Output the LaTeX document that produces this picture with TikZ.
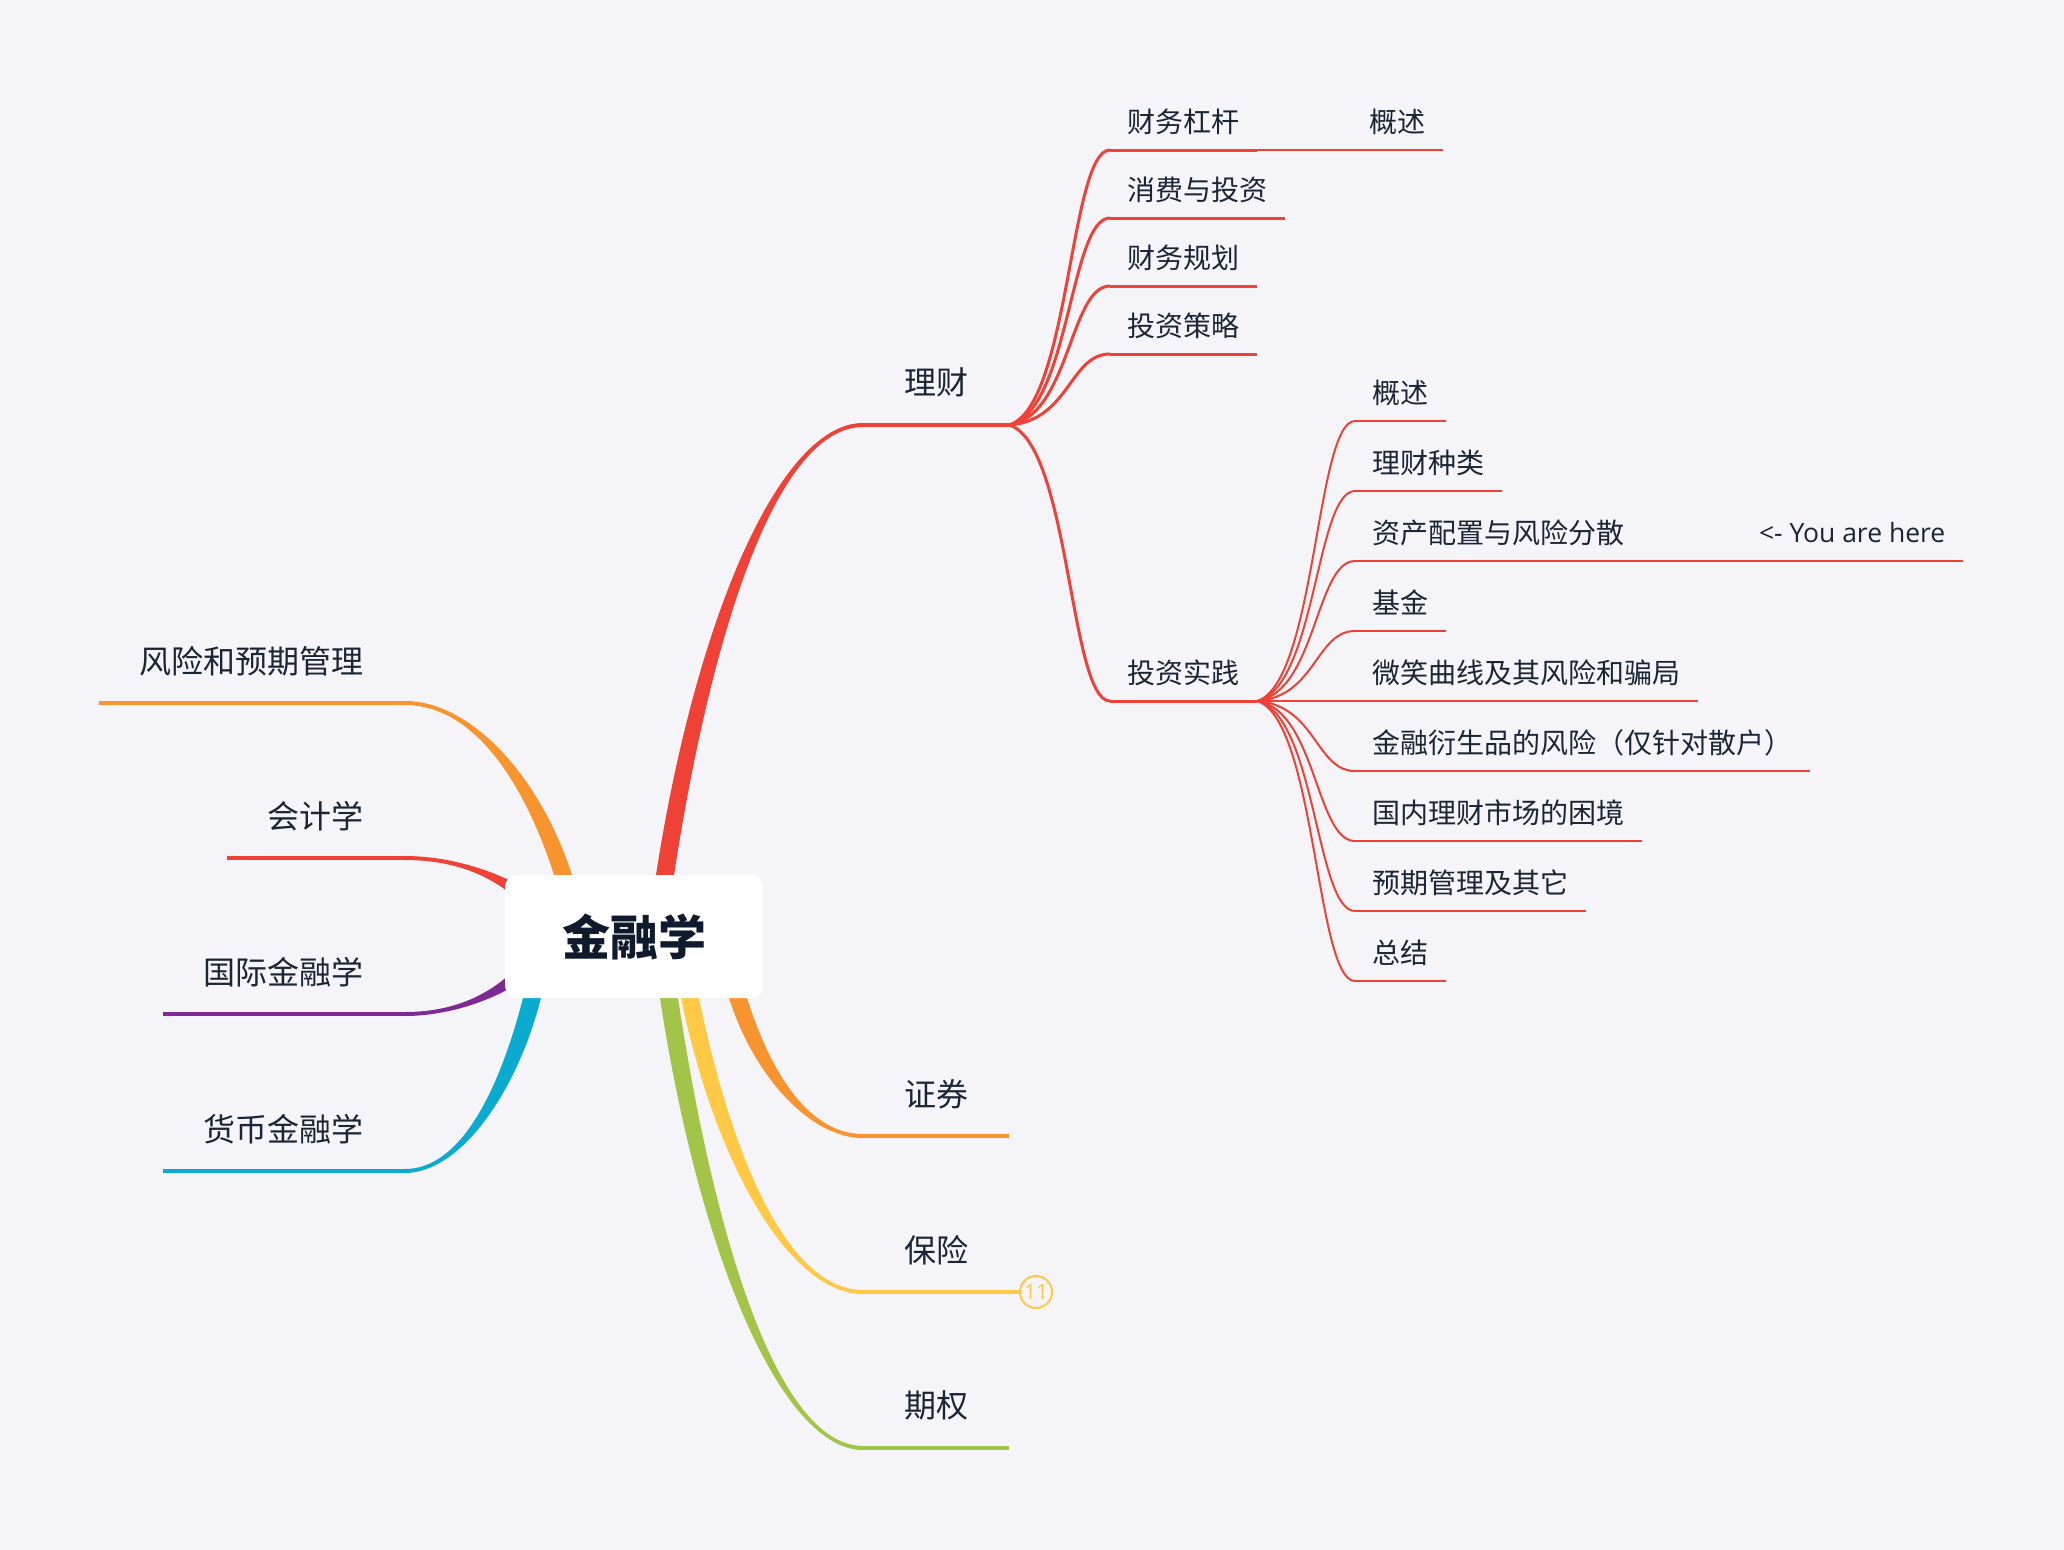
\documentclass[tikz,border=0pt]{standalone}
\usepackage{fontspec}
\setmainfont{Noto Sans CJK SC}
\newfontfamily\latinf{Open Sans}
\usetikzlibrary{calc}
\definecolor{bg}{HTML}{F5F5F9}
\definecolor{txt}{HTML}{1A2535}
\definecolor{rootc}{HTML}{0F1B2D}
\definecolor{cred}{HTML}{EF4136}
\definecolor{corange}{HTML}{F7942F}
\definecolor{cyellow}{HTML}{FFC845}
\definecolor{cgreen}{HTML}{A2C448}
\definecolor{cblue}{HTML}{0BABD0}
\definecolor{cpurple}{HTML}{7E2A92}
\tikzset{
  rootbox/.style={fill=white, rounded corners=12pt, minimum width=258pt, minimum height=123pt, inner sep=0pt,
    font=\fontsize{48}{52}\selectfont\bfseries, text=rootc},
  lone/.style={inner xsep=41pt, inner ysep=0pt, minimum height=84pt, font=\fontsize{32}{36}\selectfont, text=txt},
  ltwo/.style={inner xsep=17.5pt, inner ysep=0pt, minimum height=56pt, font=\fontsize{28}{32}\selectfont, text=txt},
  herestyle/.style={inner xsep=17.5pt, inner ysep=0pt, minimum height=56pt, font=\latinf\fontsize{26.5}{30}\selectfont, text=txt},
  ulone/.style={line width=4pt},
  ultwo/.style={line width=3pt, cred},
  ulthree/.style={line width=2pt, cred},
}
% tapered main branch: #1 base, #2 end, #3 colour, #4 sign, #5 half base width
\newcommand\trunk[5]{%
  \fill[#3] let \p1=(#1), \p2=(#2) in
    ({\x1-#5pt},\y1) .. controls ({\x1+0.2*(\x2-\x1)-#5pt},{\y1+0.57*(\y2-\y1)}) and ({\x2-0.42*(\x2-\x1)},{\y2+(#4)*2pt}) .. ({\x2},{\y2+(#4)*2pt})
    -- ({\x2},{\y2-(#4)*2pt}) .. controls ({\x2-0.42*(\x2-\x1)},{\y2-(#4)*2pt}) and ({\x1+0.2*(\x2-\x1)+#5pt},{\y1+0.57*(\y2-\y1)}) .. ({\x1+#5pt},\y1) -- cycle;
}
% sub branch connector
\newcommand\twig[3]{%
  \draw[#3] let \p1=(#1), \p2=(#2) in
    (\p1) .. controls ({\x1+0.6*(\x2-\x1)},{\y1+0.07*(\y2-\y1)}) and ({\x2-0.4*(\x2-\x1)},\y2) .. (\p2);
}
\begin{document}
\begin{tikzpicture}[x=1pt,y=-1pt]
\useasboundingbox (0,0) rectangle (2064,1550);
\fill[bg] (0,0) rectangle (2064,1550);

% main topics right
\node[lone, anchor=south west] (licai) at (863,425) {理财};
\node[lone, anchor=south west] (zhengquan) at (863,1136) {证券};
\node[lone, anchor=south west] (baoxian) at (863,1292) {保险};
\node[lone, anchor=south west] (qiquan) at (863,1448) {期权};
% main topics left
\node[lone, anchor=south east] (fengxian) at (405,703) {风险和预期管理};
\node[lone, anchor=south east] (kuaiji) at (405,858) {会计学};
\node[lone, anchor=south east] (guoji) at (405,1014) {国际金融学};
\node[lone, anchor=south east] (huobi) at (405,1171) {货币金融学};

% bases of the main branches
\coordinate (bLicai) at (665,875);
\coordinate (bZq) at (738,998);
\coordinate (bBx) at (690,998);
\coordinate (bQq) at (669,998);
\coordinate (bFx) at (563,875);
\coordinate (bKj) at (540,910);
\coordinate (bGj) at (540,955);
\coordinate (bHb) at (532,998);

\trunk{bLicai}{licai.south west}{cred}{1}{9}
\trunk{bZq}{zhengquan.south west}{corange}{-1}{9}
\trunk{bBx}{baoxian.south west}{cyellow}{-1}{9}
\trunk{bQq}{qiquan.south west}{cgreen}{-1}{9}
\trunk{bFx}{fengxian.south east}{corange}{-1}{9}
\trunk{bKj}{kuaiji.south east}{cred}{-1}{12}
\trunk{bGj}{guoji.south east}{cpurple}{1}{12}
\trunk{bHb}{huobi.south east}{cblue}{1}{9}

\draw[ulone, cred] (licai.south west) -- (licai.south east);
\draw[ulone, corange] (zhengquan.south west) -- (zhengquan.south east);
\draw[ulone, cyellow] (baoxian.south west) -- (baoxian.south east);
\draw[ulone, cgreen] (qiquan.south west) -- (qiquan.south east);
\draw[ulone, corange] (fengxian.south west) -- (fengxian.south east);
\draw[ulone, cred] (kuaiji.south west) -- (kuaiji.south east);
\draw[ulone, cpurple] (guoji.south west) -- (guoji.south east);
\draw[ulone, cblue] (huobi.south west) -- (huobi.south east);

% badge
\node[circle, draw=cyellow, line width=2pt, fill=bg, minimum size=32pt, inner sep=0pt, text=cyellow,
  font=\latinf\fontsize{21}{21}\selectfont] (badge) at (1036,1292) {11};
\draw[ulone, cyellow] (baoxian.south east) -- (badge.west);

% central topic
\node[rootbox] (root) at (634,936.5) {金融学};

% level 2
\node[ltwo, anchor=south west] (ganggan) at (1110,150) {财务杠杆};
\node[ltwo, anchor=south west] (xiaofei) at (1110,218) {消费与投资};
\node[ltwo, anchor=south west] (guihua) at (1110,286) {财务规划};
\node[ltwo, anchor=south west] (celue) at (1110,354) {投资策略};
\node[ltwo, anchor=south west] (shijian) at (1110,701) {投资实践};
\foreach \nm in {ganggan,xiaofei,guihua,celue,shijian}{
  \twig{licai.south east}{\nm.south west}{ultwo}
  \draw[ultwo] (\nm.south west) -- (\nm.south east);
}

% level 3
\node[ltwo, anchor=south west] (gaishuA) at (1352,150) {概述};
\draw[ulthree] (ganggan.south east) -- (gaishuA.south west);
\draw[ulthree] (gaishuA.south west) -- (gaishuA.south east);

\node[ltwo, anchor=south west] (gaishuB) at (1355,421) {概述};
\node[ltwo, anchor=south west] (zhonglei) at (1355,491) {理财种类};
\node[ltwo, anchor=south west] (peizhi) at (1355,561) {资产配置与风险分散};
\node[ltwo, anchor=south west] (jijin) at (1355,631) {基金};
\node[ltwo, anchor=south west] (weixiao) at (1355,701) {微笑曲线及其风险和骗局};
\node[ltwo, anchor=south west] (yansheng) at (1355,771) {金融衍生品的风险（仅针对散户）};
\node[ltwo, anchor=south west] (guonei) at (1355,841) {国内理财市场的困境};
\node[ltwo, anchor=south west] (yuqi) at (1355,911) {预期管理及其它};
\node[ltwo, anchor=south west] (zongjie) at (1355,981) {总结};
\foreach \nm in {gaishuB,zhonglei,peizhi,jijin,weixiao,yansheng,guonei,yuqi,zongjie}{
  \twig{shijian.south east}{\nm.south west}{ulthree}
  \draw[ulthree] (\nm.south west) -- (\nm.south east);
}

\node[herestyle, anchor=south east] (here) at (1963,561) {<- You are here};
\draw[ulthree] (peizhi.south east) -- (here.south west);
\draw[ulthree] (here.south west) -- (here.south east);
\end{tikzpicture}
\end{document}
